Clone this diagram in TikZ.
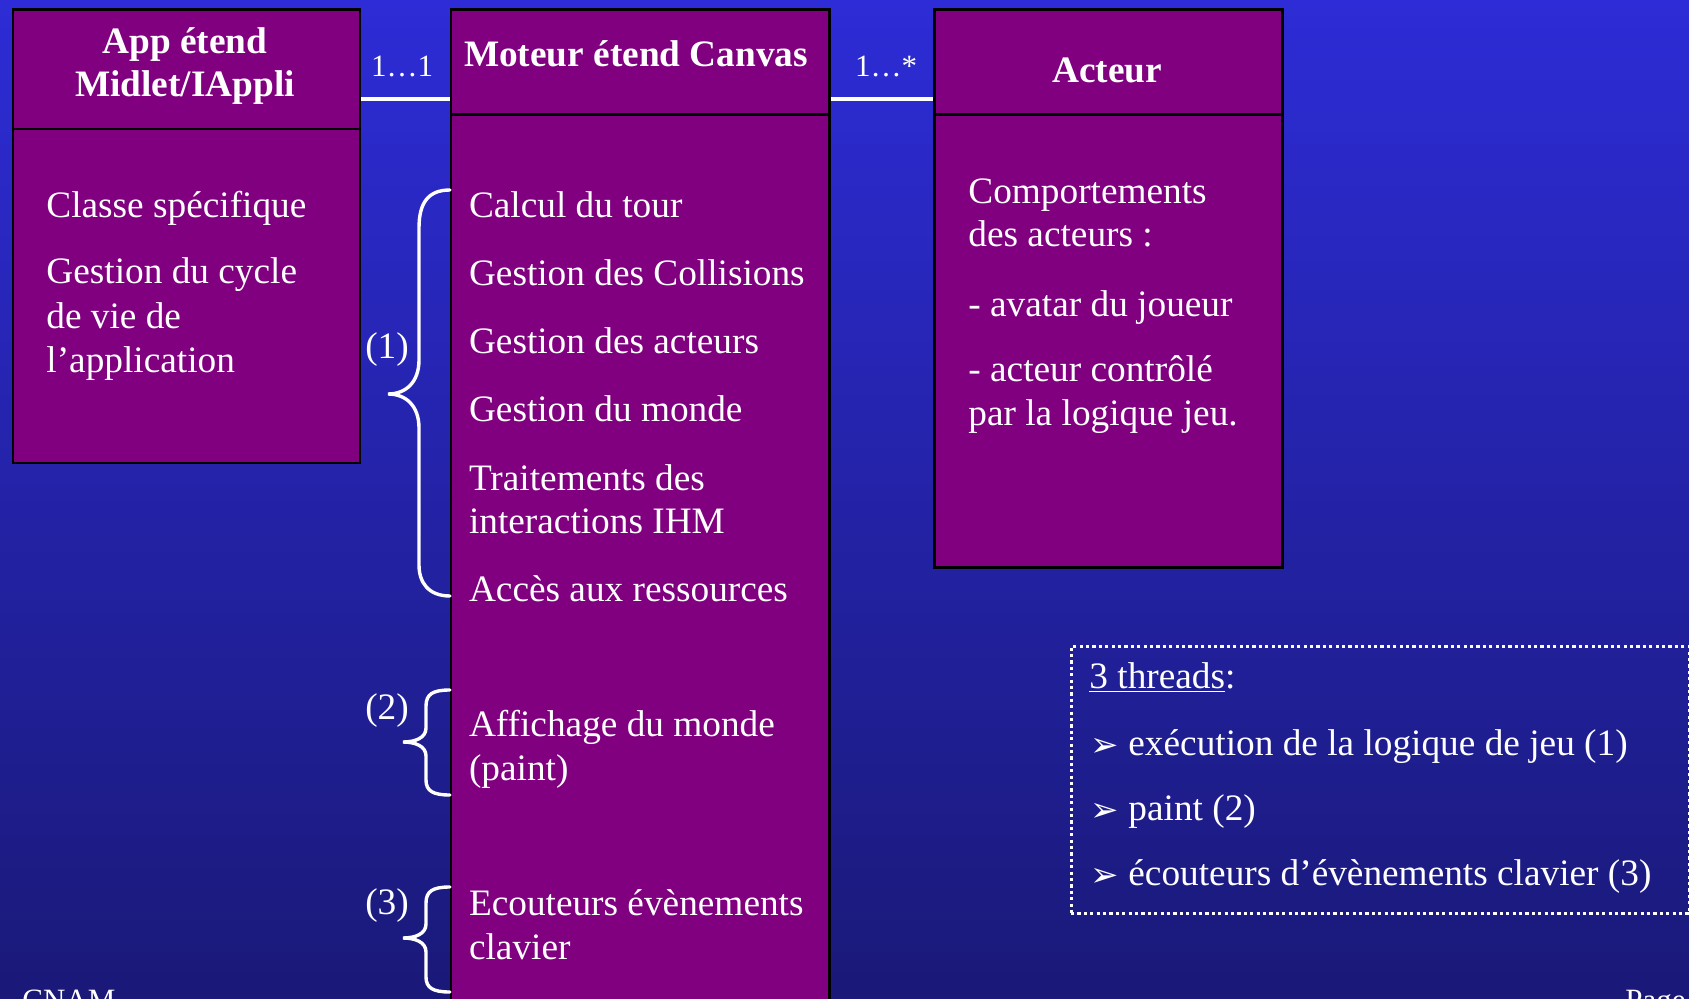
\documentclass[tikz,border=0pt]{standalone}
\usepackage{fontspec}
\setmainfont{Liberation Serif}
\newfontfamily\symfont{DejaVu Sans}
\definecolor{bgtop}{RGB}{45,44,214}
\definecolor{bgbot}{RGB}{26,25,120}
\definecolor{umlpurple}{RGB}{128,0,128}
\tikzset{
  umlbox/.style={draw=black, line width=1.3pt, fill=umlpurple, inner sep=0pt, anchor=north west},
  divider/.style={draw=black, line width=1.3pt},
  assoc/.style={draw=white, line width=2pt},
  bracepath/.style={draw=white, line width=1.7pt, line cap=round},
  bodytxt/.style={text=white, inner sep=0pt, anchor=base west, font=\fontsize{18.65pt}{22pt}\selectfont},
  headtxt/.style={text=white, inner sep=0pt, anchor=base, font=\fontsize{18.65pt}{22pt}\selectfont\bfseries},
  multtxt/.style={text=white, inner sep=0pt, anchor=base, font=\fontsize{15.5pt}{18pt}\selectfont},
  labtxt/.style={text=white, inner sep=0pt, font=\fontsize{18.65pt}{22pt}\selectfont},
  bullettxt/.style={text=white, inner sep=0pt, anchor=base west, font=\symfont\fontsize{17pt}{20pt}\selectfont},
  foottxt/.style={text=white, inner sep=0pt, anchor=base west, font=\fontsize{15.5pt}{18pt}\selectfont},
  threadbox/.style={draw=white, line width=1.5pt, dash pattern=on 1.6pt off 1.6pt, inner sep=0pt, anchor=north west},
}
\begin{document}
\begin{tikzpicture}[x=0.5pt, y=-0.5pt]
\useasboundingbox (0,0) rectangle (1689,999);
\clip (0,0) rectangle (1689,999);
% background
\shade[top color=bgtop, bottom color=bgbot] (0,0) rectangle (1689,999);

% class boxes
\node[umlbox, minimum width=173.5pt, minimum height=226.5pt] (app) at (11.5,8.5) {};
\node[umlbox, minimum width=189.25pt, minimum height=506pt] (moteur) at (449.5,8.5) {};
\node[umlbox, minimum width=174pt, minimum height=278.75pt] (acteur) at (933,8.5) {};

% header separators
\draw[divider] ([yshift=-60.25pt]app.north west) -- ([yshift=-60.25pt]app.north east);
\draw[divider] ([yshift=-53pt]moteur.north west) -- ([yshift=-53pt]moteur.north east);
\draw[divider] ([yshift=-53pt]acteur.north west) -- ([yshift=-53pt]acteur.north east);

% associations
\coordinate (assocy) at (0,98.7);
\draw[assoc] (app.east |- assocy) -- (moteur.west |- assocy);
\draw[assoc] (moteur.east |- assocy) -- (acteur.west |- assocy);
\node[multtxt] (mult1) at (402,77) {1…1};
\node[multtxt] (mult2) at (886,77) {1…*};

% headers
\node[headtxt] (apph1) at (185,53.5) {App étend};
\node[headtxt] (apph2) at (185,96.5) {Midlet/IAppli};
\node[headtxt] (moth) at (636,67) {Moteur étend Canvas};
\node[headtxt] (acth) at (1107,83) {Acteur};

% App body
\node[bodytxt] (a1) at (46,218) {Classe spécifique};
\node[bodytxt] (a2) at (46,284) {Gestion du cycle};
\node[bodytxt] (a3) at (46,329) {de vie de};
\node[bodytxt] (a4) at (46,373) {l’application};

% Moteur body
\node[bodytxt] (m1) at (468.6,218) {Calcul du tour};
\node[bodytxt] (m2) at (468.6,286) {Gestion des Collisions};
\node[bodytxt] (m3) at (468.6,354) {Gestion des acteurs};
\node[bodytxt] (m4) at (468.6,422) {Gestion du monde};
\node[bodytxt] (m5) at (468.6,490) {Traitements des};
\node[bodytxt] (m6) at (468.6,533) {interactions IHM};
\node[bodytxt] (m7) at (468.6,601) {Accès aux ressources};
\node[bodytxt] (m8) at (468.6,736) {Affichage du monde};
\node[bodytxt] (m9) at (468.6,780) {(paint)};
\node[bodytxt] (m10) at (468.6,915) {Ecouteurs évènements};
\node[bodytxt] (m11) at (468.6,959) {clavier};

% Acteur body
\node[bodytxt] (c1) at (968,204) {Comportements};
\node[bodytxt] (c2) at (968,247) {des acteurs :};
\node[bodytxt] (c3) at (968,316.6) {- avatar du joueur};
\node[bodytxt] (c4) at (968,382) {- acteur contrôlé};
\node[bodytxt] (c5) at (968,425.5) {par la logique jeu.};

% braces grouping the engine tasks by thread
\draw[bracepath] (450,190) .. controls (428,190) and (419,203) .. (419,228)
  -- (419,360) .. controls (419,382) and (406,394) .. (388,394)
  .. controls (406,394) and (419,406) .. (419,428)
  -- (419,565) .. controls (419,582) and (428,596) .. (450,596);
\draw[bracepath] (450,690) .. controls (433,690) and (426,694) .. (426,706)
  -- (426,728) .. controls (426,738) and (415,742) .. (403,742)
  .. controls (415,742) and (426,746) .. (426,756)
  -- (426,780) .. controls (426,791) and (433,795) .. (450,795);
\draw[bracepath] (450,887) .. controls (433,887) and (426,891) .. (426,903)
  -- (426,924) .. controls (426,934) and (415,938) .. (403,938)
  .. controls (415,938) and (426,942) .. (426,952)
  -- (426,977) .. controls (426,988) and (433,992) .. (450,992);
\node[labtxt] (lab1) at (387,350) {(1)};
\node[labtxt] (lab2) at (387,711) {(2)};
\node[labtxt] (lab3) at (387,906) {(3)};

% threads note
\node[threadbox, minimum width=309pt, minimum height=133.5pt] (thbox) at (1069.5,645) {};
\node[bodytxt] (th0) at (1089,688) {\underline{3 threads}:};
\node[bullettxt] (bu1) at (1090,756) {➢};
\node[bodytxt] (th1) at (1128,755) {exécution de la logique de jeu (1)};
\node[bullettxt] (bu2) at (1090,821) {➢};
\node[bodytxt] (th2) at (1128,820) {paint (2)};
\node[bullettxt] (bu3) at (1090,886) {➢};
\node[bodytxt] (th3) at (1128,885) {écouteurs d’évènements clavier (3)};

% footer
\node[foottxt] (footl) at (22,1010) {CNAM};
\node[foottxt] (footr) at (1625,1010) {Page};
\end{tikzpicture}
\end{document}
